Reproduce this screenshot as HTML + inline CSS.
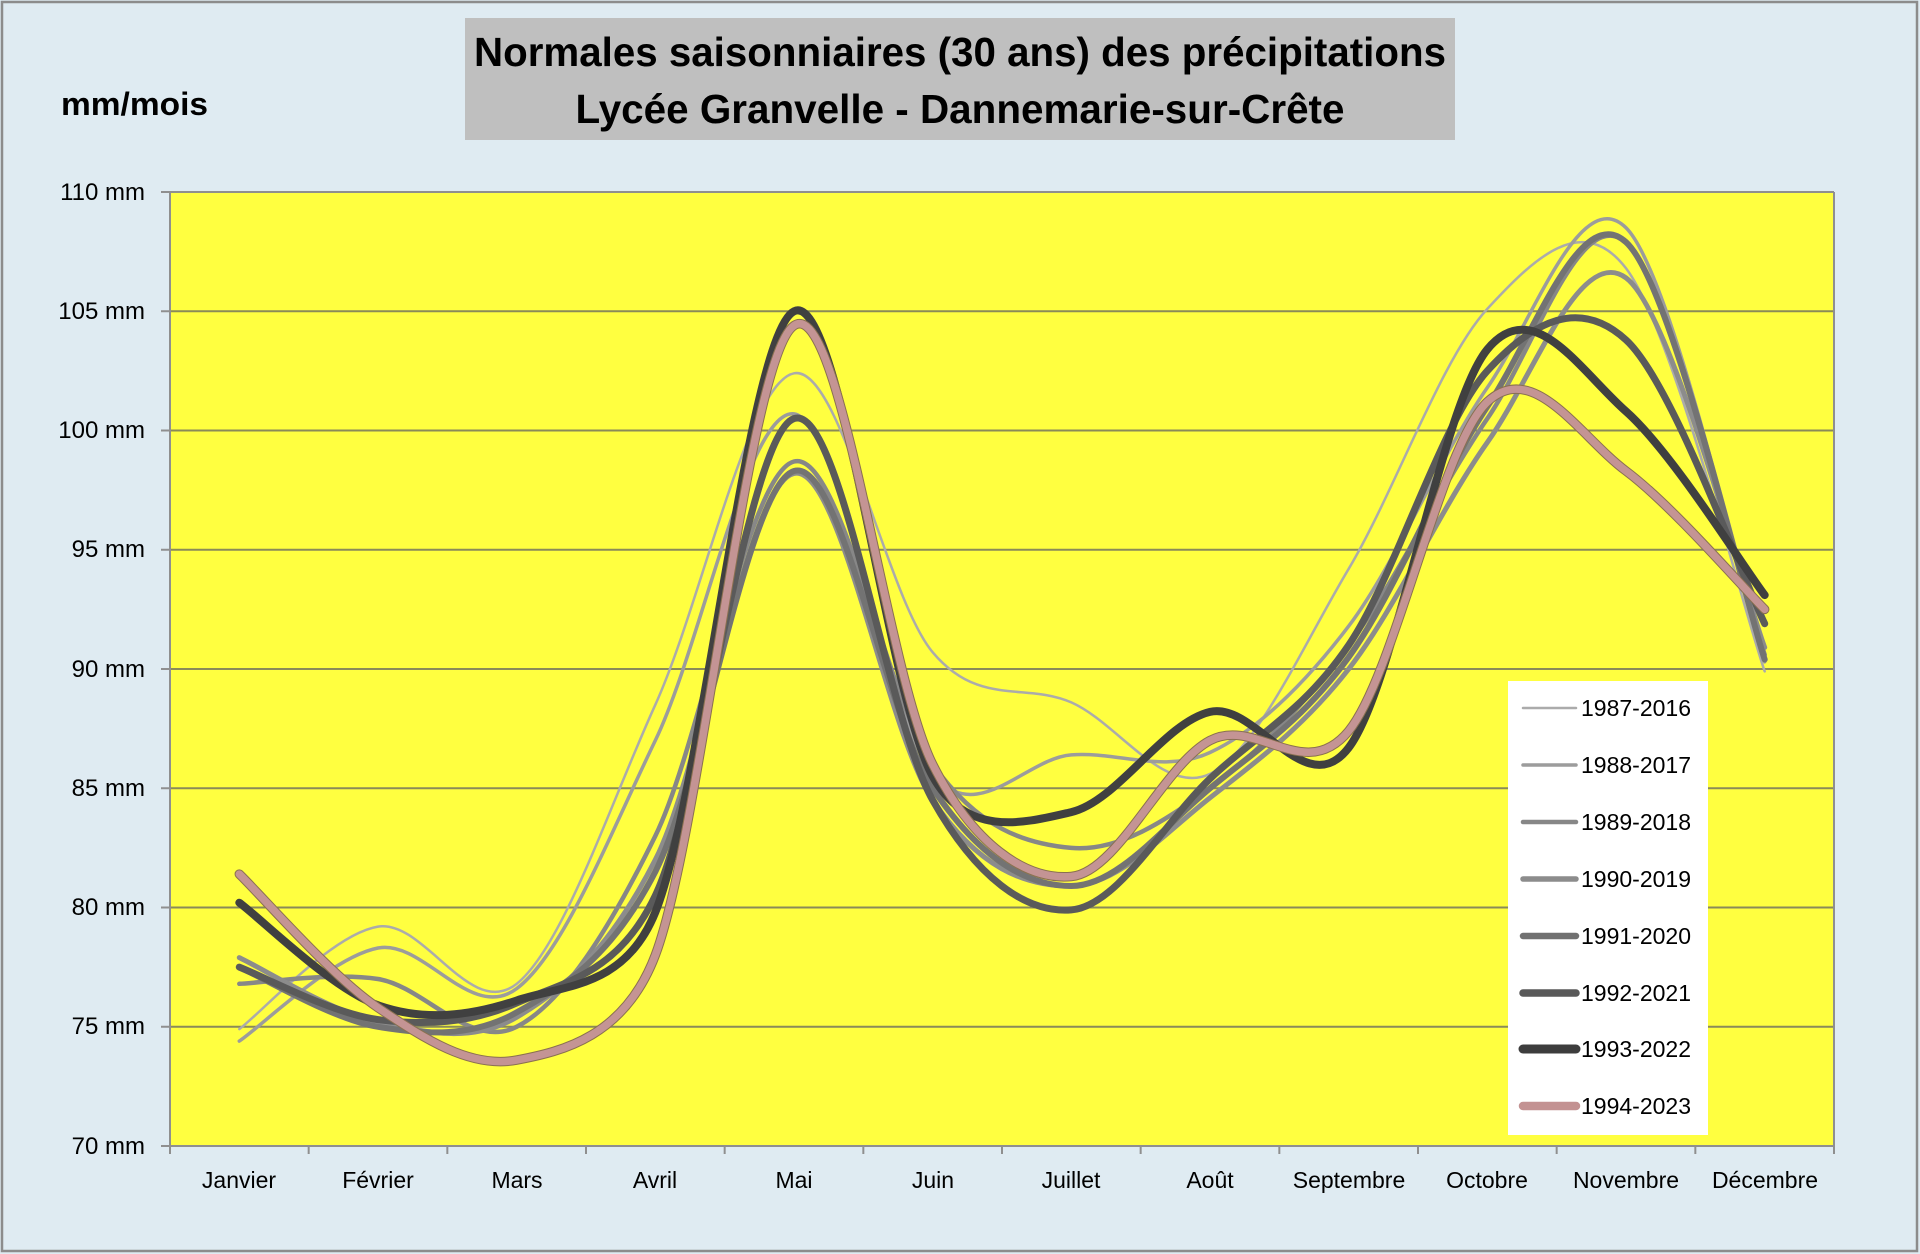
<!DOCTYPE html>
<html><head><meta charset="utf-8"><style>
html,body{margin:0;padding:0;background:#dfebf2;}
svg{display:block;}
text{font-family:"Liberation Sans",sans-serif;fill:#000;}
</style></head>
<body>
<svg id="ch" width="1920" height="1254" viewBox="0 0 1920 1254" xmlns="http://www.w3.org/2000/svg">
<rect x="0" y="0" width="1920" height="1254" fill="#dfebf2"/>
<rect x="2" y="2" width="1915" height="1249" fill="none" stroke="#8c8c8c" stroke-width="2.5"/>
<rect x="465" y="18" width="990" height="122" fill="#bfbfbf"/>
<text x="960" y="66" text-anchor="middle" font-size="41" font-weight="bold" textLength="972" lengthAdjust="spacingAndGlyphs">Normales saisonniaires (30 ans) des précipitations</text>
<text x="960" y="123" text-anchor="middle" font-size="41" font-weight="bold" textLength="769" lengthAdjust="spacingAndGlyphs">Lycée Granvelle - Dannemarie-sur-Crête</text>
<text x="61" y="115" font-size="32" font-weight="bold" textLength="147" lengthAdjust="spacingAndGlyphs">mm/mois</text>
<rect x="170" y="192" width="1664" height="954" fill="#ffff40"/>
<g id="grid" stroke="#8a8a58" stroke-width="2"></g>
<g id="axes" stroke="#8f8f8f" stroke-width="2" fill="none"></g>
<g id="ylab" font-size="24" text-anchor="end">
<text x="145" y="200">110 mm</text>
<text x="145" y="319">105 mm</text>
<text x="145" y="438">100 mm</text>
<text x="145" y="557">95 mm</text>
<text x="145" y="677">90 mm</text>
<text x="145" y="796">85 mm</text>
<text x="145" y="915">80 mm</text>
<text x="145" y="1034">75 mm</text>
<text x="145" y="1154">70 mm</text>
</g>
<g font-size="23" text-anchor="middle">
<text x="239" y="1188">Janvier</text>
<text x="378" y="1188">Février</text>
<text x="517" y="1188">Mars</text>
<text x="655" y="1188">Avril</text>
<text x="794" y="1188">Mai</text>
<text x="933" y="1188">Juin</text>
<text x="1071" y="1188">Juillet</text>
<text x="1210" y="1188">Août</text>
<text x="1349" y="1188">Septembre</text>
<text x="1487" y="1188">Octobre</text>
<text x="1626" y="1188">Novembre</text>
<text x="1765" y="1188">Décembre</text>
</g>
<g id="series" fill="none" stroke-linecap="round" stroke-linejoin="round"></g>
<rect x="1508" y="681" width="200" height="454" fill="#ffffff"/>
<g stroke-linecap="round">
<line x1="1523" y1="708" x2="1576" y2="708" stroke="#ababab" stroke-width="2.5"/>
<line x1="1523" y1="765" x2="1576" y2="765" stroke="#9c9c9c" stroke-width="3.5"/>
<line x1="1523" y1="822" x2="1576" y2="822" stroke="#878787" stroke-width="4.5"/>
<line x1="1523" y1="879" x2="1576" y2="879" stroke="#8c8c8c" stroke-width="5.5"/>
<line x1="1523" y1="936" x2="1576" y2="936" stroke="#717171" stroke-width="6.5"/>
<line x1="1523" y1="993" x2="1576" y2="993" stroke="#595959" stroke-width="7.5"/>
<line x1="1523" y1="1049" x2="1576" y2="1049" stroke="#3d3d3d" stroke-width="9"/>
<line x1="1523" y1="1106" x2="1576" y2="1106" stroke="#c39292" stroke-width="8.5"/>
</g>
<g font-size="23">
<text x="1581" y="716">1987-2016</text>
<text x="1581" y="773">1988-2017</text>
<text x="1581" y="830">1989-2018</text>
<text x="1581" y="887">1990-2019</text>
<text x="1581" y="944">1991-2020</text>
<text x="1581" y="1001">1992-2021</text>
<text x="1581" y="1057">1993-2022</text>
<text x="1581" y="1114">1994-2023</text>
</g>
</svg>
<script>
(function(){
var NS="http://www.w3.org/2000/svg";
function X(i){return 170+138.6667*(i+0.5);}
function Y(v){return 1146-(v-70)*23.85;}
var grid=document.getElementById('grid');
for(var k=1;k<8;k++){var y=192+k*119.25;var l=document.createElementNS(NS,'line');
l.setAttribute('x1',170);l.setAttribute('x2',1834);l.setAttribute('y1',y);l.setAttribute('y2',y);grid.appendChild(l);}
var ax=document.getElementById('axes');
function ln(x1,y1,x2,y2){var l=document.createElementNS(NS,'line');l.setAttribute('x1',x1);l.setAttribute('y1',y1);l.setAttribute('x2',x2);l.setAttribute('y2',y2);ax.appendChild(l);}
ln(170,192,1834,192);ln(1834,192,1834,1146);ln(170,192,170,1146);ln(170,1146,1834,1146);
for(var k=0;k<=8;k++){var y=192+k*119.25;ln(161,y,170,y);}
for(var k=0;k<=12;k++){var x=170+k*138.6667;ln(x,1146,x,1154);}
var S=[
["#ababab",2.5,[74.9,79.2,76.8,88.5,102.4,90.7,88.6,85.6,94.2,105.1,106.8,89.9]],
["#9c9c9c",3.5,[74.4,78.3,76.6,87.0,100.7,85.6,86.4,86.5,91.8,101.8,108.5,90.3]],
["#878787",4.5,[76.8,77.0,75.0,83.0,98.7,86.0,82.5,85.0,91.0,100.5,107.9,90.6]],
["#8c8c8c",5,[77.9,75.2,75.4,82.0,98.2,84.5,80.9,84.6,90.0,99.5,106.4,90.9]],
["#737373",6,[77.5,75.0,75.6,81.5,98.3,85.0,80.9,85.0,90.5,101.0,107.9,90.4]],
["#5a5a5a",7,[77.5,75.3,76.0,80.5,100.5,84.5,79.9,85.4,91.0,102.5,103.8,91.9]],
["#404040",8,[80.2,75.9,76.1,79.8,105.0,85.5,84.0,88.2,86.7,103.4,100.8,93.1]],
["#c49494",7.5,[81.4,75.8,73.6,78.0,104.4,86.0,81.3,87.0,87.4,101.2,98.3,92.5]]
];
function dist(a,b){return Math.sqrt((a[0]-b[0])*(a[0]-b[0])+(a[1]-b[1])*(a[1]-b[1]));}
var g=document.getElementById('series');
S.forEach(function(s,idx){
 var v=s[2],n=v.length,P=[];
 for(var i=0;i<n;i++)P.push([X(i),Y(v[i])]);
 function p(i){return P[Math.max(0,Math.min(n-1,i))];}
 var d="M"+P[0][0].toFixed(1)+" "+P[0][1].toFixed(1);
 for(var i=0;i<n-1;i++){
  var p0=p(i-1),p1=p(i),p2=p(i+1),p3=p(i+2);
  var h=dist(p1,p2)/2;
  var v1=[(p2[0]-p0[0])/6,(p2[1]-p0[1])/6],l1=Math.sqrt(v1[0]*v1[0]+v1[1]*v1[1]);
  if(l1>h&&l1>0){v1=[v1[0]*h/l1,v1[1]*h/l1];}
  var v2=[(p3[0]-p1[0])/6,(p3[1]-p1[1])/6],l2=Math.sqrt(v2[0]*v2[0]+v2[1]*v2[1]);
  if(l2>h&&l2>0){v2=[v2[0]*h/l2,v2[1]*h/l2];}
  var c1=[p1[0]+v1[0],p1[1]+v1[1]];
  var c2=[p2[0]-v2[0],p2[1]-v2[1]];
  d+=" C"+c1[0].toFixed(1)+" "+c1[1].toFixed(1)+" "+c2[0].toFixed(1)+" "+c2[1].toFixed(1)+" "+p2[0].toFixed(1)+" "+p2[1].toFixed(1);
 }
 if(idx==7){var o=document.createElementNS(NS,'path');o.setAttribute('d',d);o.setAttribute('stroke','#8a7050');o.setAttribute('stroke-width',9.5);g.appendChild(o);}
 var e=document.createElementNS(NS,'path');e.setAttribute('d',d);e.setAttribute('stroke',s[0]);e.setAttribute('stroke-width',s[1]);g.appendChild(e);
});
})();
</script>
</body></html>
